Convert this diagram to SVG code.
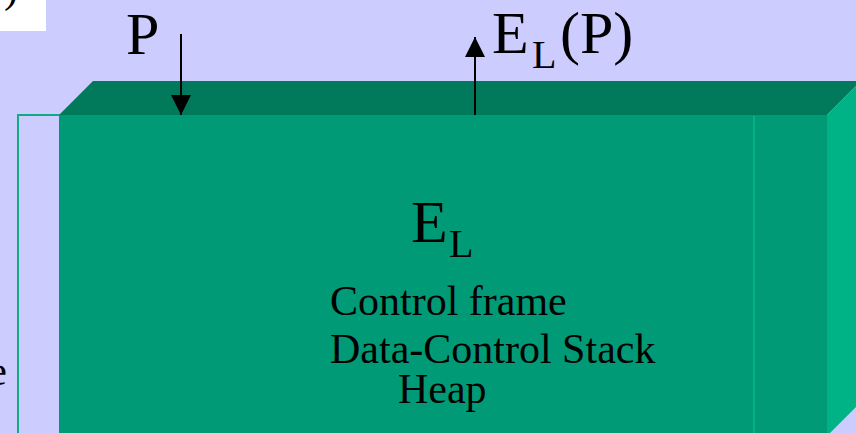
<svg xmlns="http://www.w3.org/2000/svg" width="856" height="433" viewBox="0 0 856 433">
  <style>
    .t { font-family: "Liberation Serif", "Times New Roman", serif; fill: #000; }
    .big { font-size: 60px; }
    .sub { font-size: 40px; }
    .mid { font-size: 42px; }
    .conn { stroke: #000; stroke-width: 2; fill: none; }
  </style>
  <defs>
    <marker id="ah" markerUnits="userSpaceOnUse" markerWidth="22" markerHeight="22" refX="20" refY="10" orient="auto">
      <path d="M0,0 L20,10 L0,20 Z" fill="#000"/>
    </marker>
  </defs>
  <rect x="0" y="0" width="856" height="433" fill="#CCCCFF"/>

  <g id="corner-note">
    <rect x="0" y="0" width="46" height="31" fill="#FFFFFF"/>
    <text class="t mid" x="4" y="2">)</text>
  </g>

  <g id="left-frame">
    <path d="M18,433 L18,115 L60,115" fill="none" stroke="#10AA84" stroke-width="2"/>
    <text class="t mid" x="7" y="385" text-anchor="end">e</text>
  </g>

  <g id="block">
    <polygon points="59,115 93,81 861,81 827,115" fill="#007A5B"/>
    <polygon points="827,115 861,81 861,402 827,436" fill="#00B386"/>
    <rect x="59" y="115" width="768" height="330" fill="#009B76"/>
    <rect x="753" y="116" width="2" height="330" fill="#00B386"/>
    <text class="t big" x="411" y="242">E</text>
    <text class="t sub" x="449" y="257">L</text>
    <text class="t mid" x="330" y="315">Control frame</text>
    <text class="t mid" x="330" y="363">Data-Control Stack</text>
    <text class="t mid" x="398" y="403">Heap</text>
  </g>

  <g id="label-P">
    <text class="t big" x="126" y="54">P</text>
  </g>

  <g id="label-ELP">
    <text class="t big" x="492" y="53">E</text>
    <text class="t sub" x="532" y="68">L</text>
    <text class="t big" x="560" y="53">(P)</text>
  </g>

  <g id="connectors">
    <line class="conn" x1="181" y1="34" x2="181" y2="115" marker-end="url(#ah)"/>
    <line class="conn" x1="475" y1="115" x2="475" y2="37" marker-end="url(#ah)"/>
  </g>
</svg>
